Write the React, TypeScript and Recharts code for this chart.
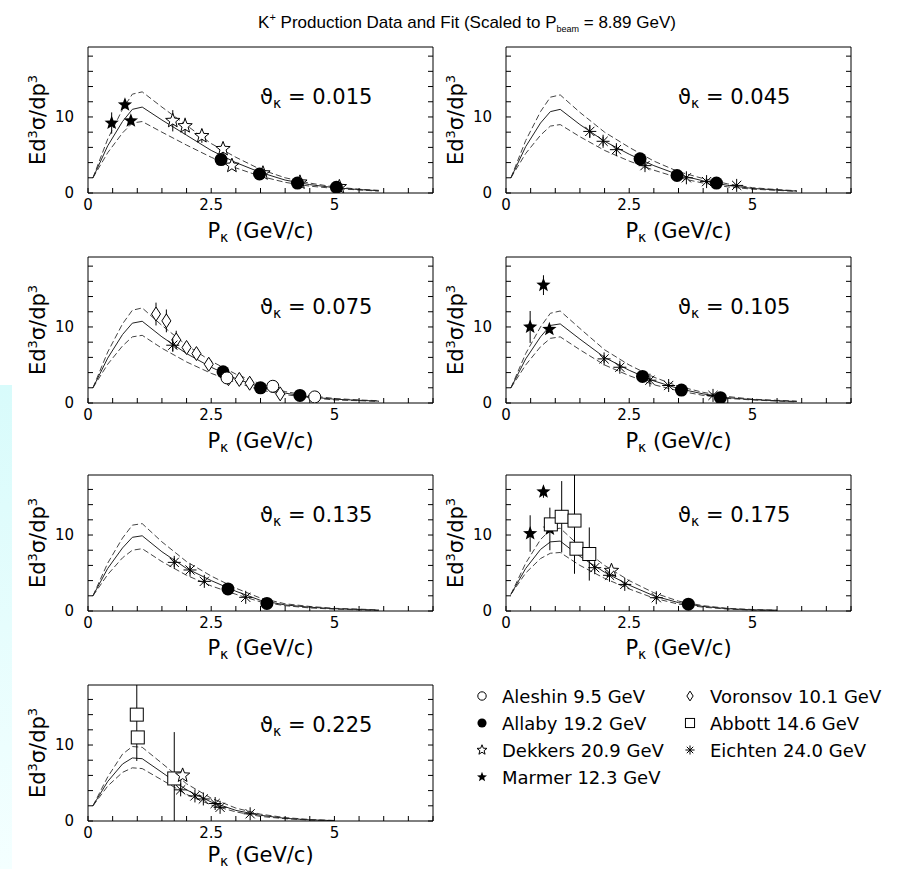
import { ComposedChart, Line, Scatter, ErrorBar, XAxis, YAxis } from 'recharts';

const FONT = '"DejaVu Sans", sans-serif';

// momentum grid of the fit curves (GeV/c)
const fitP = [0.1, 0.4, 0.7, 0.9, 1.1, 1.5, 2.0, 2.5, 3.0, 3.5, 4.0, 4.5, 5.0, 5.5, 5.9];

// fit (solid) and error band (dashed) per angle
const fit015 = [2.0, 6.2, 9.4, 11.0, 11.3, 9.6, 7.6, 5.6, 4.0, 2.7, 1.7, 1.1, 0.7, 0.45, 0.3];
const hi015 = [2.0, 7.1, 11.0, 13.0, 13.3, 11.3, 8.9, 6.5, 4.7, 3.1, 2.0, 1.3, 0.8, 0.5, 0.35];
const lo015 = [2.0, 5.3, 7.9, 9.2, 9.4, 8.0, 6.3, 4.7, 3.3, 2.2, 1.4, 0.9, 0.6, 0.4, 0.25];

const fit045 = [2.0, 6.1, 9.2, 10.7, 11.0, 9.0, 6.8, 5.1, 3.6, 2.4, 1.6, 1.0, 0.6, 0.4, 0.25];
const hi045 = [2.0, 6.9, 10.7, 12.6, 12.9, 10.6, 8.0, 6.0, 4.2, 2.8, 1.9, 1.2, 0.7, 0.45, 0.3];
const lo045 = [2.0, 5.2, 7.6, 8.8, 9.0, 7.4, 5.6, 4.2, 3.0, 2.0, 1.3, 0.8, 0.5, 0.35, 0.2];

const fit075 = [2.0, 5.9, 9.0, 10.5, 10.75, 8.7, 6.5, 4.7, 3.2, 2.1, 1.3, 0.8, 0.5, 0.35, 0.25];
const hi075 = [2.0, 6.7, 10.4, 12.2, 12.5, 10.2, 7.6, 5.5, 3.8, 2.5, 1.5, 0.95, 0.6, 0.4, 0.3];
const lo075 = [2.0, 5.1, 7.5, 8.7, 8.9, 7.2, 5.4, 3.9, 2.7, 1.7, 1.1, 0.7, 0.4, 0.3, 0.2];

const fit105 = [2.0, 5.8, 8.7, 10.2, 10.4, 8.4, 6.0, 4.3, 2.9, 1.9, 1.2, 0.7, 0.45, 0.3, 0.2];
const hi105 = [2.0, 6.5, 10.0, 11.8, 12.1, 9.8, 7.0, 5.0, 3.4, 2.2, 1.4, 0.85, 0.5, 0.35, 0.25];
const lo105 = [2.0, 5.0, 7.4, 8.5, 8.7, 7.0, 5.0, 3.6, 2.4, 1.6, 1.0, 0.6, 0.4, 0.25, 0.15];

const fit135 = [2.0, 5.6, 8.3, 9.7, 9.9, 7.8, 5.6, 4.0, 2.6, 1.4, 0.8, 0.5, 0.3, 0.2, 0.1];
const hi135 = [2.0, 6.3, 9.6, 11.3, 11.5, 9.1, 6.5, 4.6, 3.0, 1.7, 0.95, 0.6, 0.35, 0.25, 0.15];
const lo135 = [2.0, 4.8, 7.0, 8.0, 8.2, 6.5, 4.7, 3.3, 2.2, 1.2, 0.7, 0.4, 0.25, 0.15, 0.1];

const fit175 = [2.2, 5.6, 8.1, 9.1, 9.2, 7.2, 5.1, 3.4, 2.0, 1.1, 0.6, 0.3, 0.15, 0.1];
const hi175 = [2.2, 6.3, 9.4, 10.7, 10.9, 8.5, 6.0, 4.0, 2.4, 1.3, 0.7, 0.35, 0.2, 0.1];
const lo175 = [2.2, 5.0, 6.9, 7.6, 7.7, 6.0, 4.3, 2.9, 1.7, 0.9, 0.5, 0.25, 0.12, 0.08];

const fit225 = [2.0, 5.2, 7.5, 8.3, 8.2, 6.4, 4.1, 2.5, 1.4, 0.75, 0.35, 0.15, 0.05];
const hi225 = [2.0, 5.8, 8.8, 9.8, 9.7, 7.6, 4.9, 3.0, 1.7, 0.9, 0.45, 0.2, 0.07];
const lo225 = [2.0, 4.6, 6.4, 7.0, 6.9, 5.4, 3.5, 2.1, 1.2, 0.6, 0.3, 0.12, 0.04];

// measurements: [p, Ed3s/dp3, error down, error up]
const marmer015 = [[0.48, 9.2, 1.4, 1.4], [0.75, 11.6, 0.5, 0.5], [0.87, 9.5, 0.5, 0.5]];
const dekkers015 = [[1.72, 9.5, 1.4, 1.4], [1.97, 8.8, 1.1, 1.1], [2.31, 7.5, 0.9, 0.9], [2.74, 5.8, 0.8, 0.8], [2.92, 3.6, 0.4, 0.4], [3.55, 2.6, 0.3, 0.3], [4.3, 1.4, 0.3, 0.3], [5.1, 0.8, 0.2, 0.2]];
const allaby015 = [[2.7, 4.4, 0, 0], [3.48, 2.5, 0, 0], [4.25, 1.3, 0, 0], [5.04, 0.75, 0, 0]];

const eichten045 = [[1.7, 8.1, 0.8, 0.8], [1.97, 6.8, 0.6, 0.6], [2.24, 5.7, 0.6, 0.6], [2.82, 3.6, 0.4, 0.4], [3.66, 2.0, 0.2, 0.2], [4.07, 1.5, 0.2, 0.2], [4.68, 1.0, 0.2, 0.2]];
const allaby045 = [[2.72, 4.5, 0, 0], [3.47, 2.3, 0, 0], [4.27, 1.3, 0, 0]];

const voronsov075 = [[1.38, 11.7, 1.5, 1.5], [1.59, 10.8, 1.5, 1.5], [1.79, 8.3, 1.2, 1.2], [2.0, 7.3, 0.6, 0.6], [2.2, 6.5, 0.5, 0.5], [2.45, 5.1, 0.4, 0.4], [2.85, 3.2, 0.3, 0.3], [3.07, 3.1, 0.3, 0.3], [3.28, 2.6, 0.3, 0.3], [3.9, 1.2, 0.2, 0.2]];
const eichten075 = [[1.72, 7.6, 0.8, 0.8]];
const allaby075 = [[2.74, 4.1, 0, 0], [3.5, 2.0, 0, 0], [4.3, 1.0, 0, 0]];
const aleshin075 = [[2.82, 3.3, 0, 0], [3.75, 2.2, 0, 0], [4.6, 0.8, 0, 0]];

const marmer105 = [[0.49, 10.0, 2.1, 2.1], [0.76, 15.5, 1.3, 1.3], [0.88, 9.7, 0.4, 0.4]];
const eichten105 = [[1.99, 5.8, 0.5, 0.5], [2.31, 4.7, 0.5, 0.5], [2.92, 3.0, 0.3, 0.3], [3.3, 2.3, 0.2, 0.2], [4.2, 1.0, 0.2, 0.2]];
const allaby105 = [[2.77, 3.5, 0, 0], [3.56, 1.7, 0, 0], [4.35, 0.7, 0, 0]];

const eichten135 = [[1.75, 6.4, 0.6, 0.6], [2.07, 5.4, 0.5, 0.5], [2.36, 3.9, 0.4, 0.4], [3.2, 1.8, 0.2, 0.2]];
const allaby135 = [[2.84, 2.9, 0, 0], [3.63, 1.0, 0, 0]];

const marmer175 = [[0.49, 10.2, 2.4, 2.4], [0.76, 15.7, 0.8, 0.8], [0.89, 10.8, 2.8, 2.8]];
const abbott175 = [[0.91, 11.4, 0, 0], [1.13, 12.4, 4.7, 4.7], [1.39, 11.9, 7.0, 6.0], [1.43, 8.2, 0, 0], [1.69, 7.5, 3.5, 3.5]];
const dekkers175 = [[2.14, 5.3, 0, 0]];
const eichten175 = [[1.8, 5.7, 0.5, 0.5], [2.1, 4.7, 0.4, 0.4], [2.41, 3.5, 0.3, 0.3], [3.05, 1.75, 0.2, 0.2]];
const allaby175 = [[3.7, 0.9, 0, 0]];

const abbott225 = [[0.99, 14.0, 6.1, 3.9], [1.01, 11.0, 0, 0], [1.75, 5.6, 5.6, 6.1]];
const dekkers225 = [[1.92, 6.0, 0, 0]];
const eichten225 = [[1.88, 4.1, 0.3, 0.3], [2.17, 3.3, 0.3, 0.3], [2.34, 2.9, 0.2, 0.2], [2.58, 2.3, 0.2, 0.2], [2.68, 1.8, 0.2, 0.2], [3.29, 0.95, 0.1, 0.1]];

const legendItems = [
  ['aleshin', 'Aleshin 9.5 GeV'],
  ['voronsov', 'Voronsov 10.1 GeV'],
  ['allaby', 'Allaby 19.2 GeV'],
  ['abbott', 'Abbott 14.6 GeV'],
  ['dekkers', 'Dekkers 20.9 GeV'],
  ['eichten', 'Eichten 24.0 GeV'],
  ['marmer', 'Marmer 12.3 GeV'],
];

const panels = [
  { angle: '0.015', fit: fit015, hi: hi015, lo: lo015, sets: { marmer: marmer015, dekkers: dekkers015, allaby: allaby015 } },
  { angle: '0.045', fit: fit045, hi: hi045, lo: lo045, sets: { eichten: eichten045, allaby: allaby045 } },
  { angle: '0.075', fit: fit075, hi: hi075, lo: lo075, sets: { voronsov: voronsov075, eichten: eichten075, allaby: allaby075, aleshin: aleshin075 } },
  { angle: '0.105', fit: fit105, hi: hi105, lo: lo105, sets: { marmer: marmer105, eichten: eichten105, allaby: allaby105 } },
  { angle: '0.135', fit: fit135, hi: hi135, lo: lo135, sets: { eichten: eichten135, allaby: allaby135 } },
  { angle: '0.175', fit: fit175, hi: hi175, lo: lo175, sets: { marmer: marmer175, abbott: abbott175, dekkers: dekkers175, eichten: eichten175, allaby: allaby175 } },
  { angle: '0.225', fit: fit225, hi: hi225, lo: lo225, sets: { abbott: abbott225, dekkers: dekkers225, eichten: eichten225 } },
];

// page layout
const COLS = [88, 506];
const PLOT_W = 345;
const ROWS = [
  { top: 47, h: 146, ymax: 19.2, lab: 45 },
  { top: 257, h: 146, ymax: 19.2, lab: 45 },
  { top: 475, h: 136, ymax: 17.9, lab: 44 },
  { top: 685, h: 136, ymax: 17.9, lab: 41 },
];
const X_TICKS = [0, 0.5, 1, 1.5, 2, 2.5, 3, 3.5, 4, 4.5, 5, 5.5, 6, 6.5, 7];

const starPts = (cx: number, cy: number, R: number, r: number) => {
  const pts: string[] = [];
  for (let i = 0; i < 10; i++) {
    const a = -Math.PI / 2 + (i * Math.PI) / 5;
    const d = i % 2 ? r : R;
    pts.push(`${cx + d * Math.cos(a)},${cy + d * Math.sin(a)}`);
  }
  return pts.join(' ');
};

function Sym({ cx, cy, kind, s = 1 }: { cx?: number; cy?: number; kind: string; s?: number }) {
  if (cx == null || cy == null) return null;
  switch (kind) {
    case 'aleshin':
      return <circle cx={cx} cy={cy} r={6 * s} fill="#fff" stroke="#000" />;
    case 'allaby':
      return <circle cx={cx} cy={cy} r={6.5 * s} fill="#000" />;
    case 'dekkers':
      return <polygon points={starPts(cx, cy, 7.5 * s, 3.2 * s)} fill="#fff" stroke="#000" />;
    case 'marmer':
      return <polygon points={starPts(cx, cy, 7.5 * s, 3.2 * s)} fill="#000" />;
    case 'voronsov': {
      const w = 4.5 * s;
      const h = 7 * s;
      return <polygon points={`${cx},${cy - h} ${cx + w},${cy} ${cx},${cy + h} ${cx - w},${cy}`} fill="#fff" stroke="#000" />;
    }
    case 'abbott': {
      const a = 6.5 * s;
      return <rect x={cx - a} y={cy - a} width={2 * a} height={2 * a} fill="#fff" stroke="#000" />;
    }
    default: {
      const a = 6.5 * s;
      const d = a * 0.707;
      return (
        <g stroke="#000" strokeWidth={1}>
          <line x1={cx - a} y1={cy} x2={cx + a} y2={cy} />
          <line x1={cx} y1={cy - a} x2={cx} y2={cy + a} />
          <line x1={cx - d} y1={cy - d} x2={cx + d} y2={cy + d} />
          <line x1={cx - d} y1={cy + d} x2={cx + d} y2={cy - d} />
        </g>
      );
    }
  }
}

const fmtX = (v: number) => (v === 0 || v === 2.5 || v === 5 ? String(v) : '');
const fmtY = (v: number) => (v === 0 || v === 10 ? String(v) : '');
const blank = () => '';
const tickFont = { fill: '#000', fontSize: 15, fontFamily: FONT };

function Panel({ p, left, top, h, ymax }: any) {
  const curve = (vals: number[]) => vals.map((v, i) => ({ x: fitP[i], y: v }));
  const yTicks: number[] = [];
  for (let v = 0; v <= ymax; v += 2) yTicks.push(v);
  return (
    <div style={{ position: 'absolute', left: left - 60, top: top - 5 }}>
      <ComposedChart width={PLOT_W + 65} height={h + 35} margin={{ top: 5, right: 5, bottom: 0, left: 0 }}>
        <XAxis xAxisId="b" type="number" dataKey="x" domain={[0, 7]} allowDataOverflow ticks={X_TICKS} interval={0}
          tickSize={-5} tickMargin={11} height={30} tickFormatter={fmtX} stroke="#000" tick={tickFont} />
        <XAxis xAxisId="t" orientation="top" mirror type="number" domain={[0, 7]} allowDataOverflow ticks={X_TICKS}
          interval={0} tickSize={5} tickFormatter={blank} stroke="#000" />
        <YAxis yAxisId="l" type="number" dataKey="y" domain={[0, ymax]} allowDataOverflow ticks={yTicks} interval={0}
          tickSize={-5} tickMargin={19} width={60} tickFormatter={fmtY} stroke="#000" tick={tickFont} />
        <YAxis yAxisId="r" orientation="right" mirror type="number" domain={[0, ymax]} allowDataOverflow ticks={yTicks}
          interval={0} tickSize={5} tickFormatter={blank} stroke="#000" />
        <Line xAxisId="b" yAxisId="l" data={curve(p.hi)} dataKey="y" type="linear" stroke="#444" strokeDasharray="6 3"
          dot={false} activeDot={false} isAnimationActive={false} />
        <Line xAxisId="b" yAxisId="l" data={curve(p.lo)} dataKey="y" type="linear" stroke="#444" strokeDasharray="6 3"
          dot={false} activeDot={false} isAnimationActive={false} />
        <Line xAxisId="b" yAxisId="l" data={curve(p.fit)} dataKey="y" type="linear" stroke="#222"
          dot={false} activeDot={false} isAnimationActive={false} />
        {Object.entries(p.sets).map(([kind, pts]: any) => (
          <Scatter key={kind} xAxisId="b" yAxisId="l" isAnimationActive={false}
            data={pts.map((d: number[]) => ({ x: d[0], y: d[1], e: [d[2], d[3]] }))}
            shape={(sp: any) => <Sym cx={sp.cx} cy={sp.cy} kind={kind} />}>
            <ErrorBar dataKey="e" direction="y" width={0} stroke="#000" strokeWidth={1} />
          </Scatter>
        ))}
      </ComposedChart>
    </div>
  );
}

export default function App() {
  const slots = panels.map((p, i) => {
    const r = ROWS[Math.floor(i / 2)];
    return { p, left: COLS[i % 2], ...r };
  });
  return (
    <div style={{ position: 'absolute', left: 0, top: 0, width: 905, height: 869, background: '#fff', overflow: 'hidden' }}>
      <div style={{ position: 'absolute', left: 0, top: 385, width: 12, height: 484, background: 'linear-gradient(#d8fbfb, #f4ffff)' }} />
      {slots.map((s) => (
        <Panel key={s.p.angle} p={s.p} left={s.left} top={s.top} h={s.h} ymax={s.ymax} />
      ))}
      <svg width={905} height={869} style={{ position: 'absolute', left: 0, top: 0, pointerEvents: 'none' }} fontFamily={FONT}>
        <text x={467} y={28} textAnchor="middle" fontSize={17} fontFamily='"Liberation Sans", sans-serif'>
          K<tspan dy={-7} fontSize={11}>+</tspan>
          <tspan dy={7}> Production Data and Fit (Scaled to P</tspan>
          <tspan dy={4} fontSize={9}>beam</tspan>
          <tspan dy={-4}> = 8.89 GeV)</tspan>
        </text>
        {slots.map((s) => {
          const bottom = s.top + s.h;
          const mid = s.top + s.h / 2;
          const lx = s.left - 43;
          return (
            <g key={s.p.angle}>
              <text x={lx} y={mid} textAnchor="middle" fontSize={21} transform={`rotate(-90 ${lx} ${mid})`}>
                Ed<tspan dy={-8} fontSize={13}>3</tspan>
                <tspan dy={8}>σ/dp</tspan>
                <tspan dy={-8} fontSize={13}>3</tspan>
              </text>
              <text x={s.left + PLOT_W / 2} y={bottom + s.lab} textAnchor="middle" fontSize={21}>
                P<tspan dy={4} fontSize={14}>κ</tspan>
                <tspan dy={-4}> (GeV/c)</tspan>
              </text>
              <text x={s.left + 172} y={bottom - 89} fontSize={21}>
                ϑ<tspan dy={4} fontSize={14}>κ</tspan>
                <tspan dy={-4}> = {s.p.angle}</tspan>
              </text>
            </g>
          );
        })}
        {legendItems.map(([kind, label], i) => {
          const x = i % 2 ? 690 : 482;
          const y = 696 + Math.floor(i / 2) * 27;
          return (
            <g key={kind}>
              <Sym cx={x} cy={y} kind={kind} s={0.7} />
              <text x={x + 20} y={y + 6.5} fontSize={18}>{label}</text>
            </g>
          );
        })}
      </svg>
    </div>
  );
}
